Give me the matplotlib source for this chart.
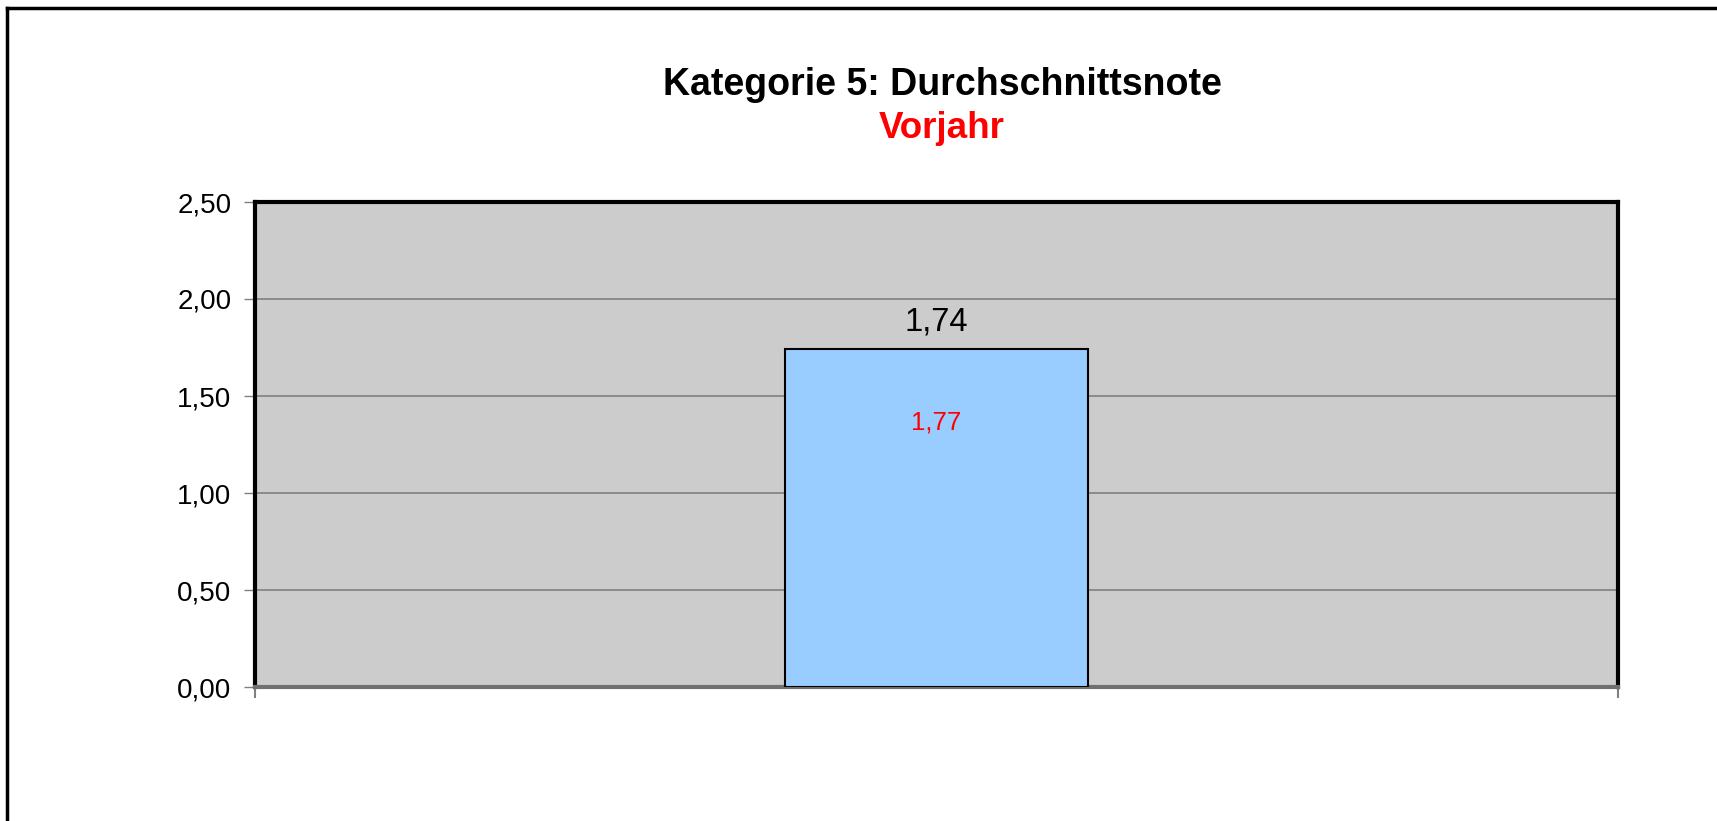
import matplotlib
matplotlib.use("Agg")
import matplotlib.pyplot as plt
from matplotlib.lines import Line2D

plt.rcParams['font.family'] = ['Liberation Sans', 'DejaVu Sans']

# data
categories = [""]
values = [1.74]
prev_values = [1.77]
yticks = [0.0, 0.5, 1.0, 1.5, 2.0, 2.5]
ytick_labels = ["0,00", "0,50", "1,00", "1,50", "2,00", "2,50"]
title = "Kategorie 5: Durchschnittsnote"
subtitle = "Vorjahr"

fig = plt.figure(figsize=(17.17, 8.21), dpi=100)
ax = fig.add_axes([255 / 1717, 1 - 687 / 821, 1363 / 1717, 485 / 821])
ax.set_facecolor("#CCCCCC")

x = list(range(len(categories)))
bars = ax.bar(x, values, width=0.222, color="#99CCFF", edgecolor="black", linewidth=1.5, zorder=3)

ax.set_xlim(-0.5, len(categories) - 0.5)
ax.set_ylim(0, 2.5)
ax.set_yticks(yticks)
ax.set_yticklabels(ytick_labels, fontsize=20)
ax.set_xticks([-0.5, len(categories) - 0.5])
ax.set_xticklabels(["", ""])
ax.tick_params(axis="y", length=8, width=1, color="#808080", pad=9)
ax.tick_params(axis="x", length=8, width=1.5, color="#808080")

# gridlines
for t in yticks[1:-1]:
    ax.axhline(t, color="#808080", linewidth=1.2, zorder=1)

for side in ["left", "top", "right"]:
    ax.spines[side].set_linewidth(3)
    ax.spines[side].set_color("black")
ax.spines["bottom"].set_linewidth(3)
ax.spines["bottom"].set_color("#707070")

# value labels
for xi, v, p in zip(x, values, prev_values):
    ax.annotate(f"{v:.2f}".replace(".", ","), (xi, v), xytext=(0, 20), textcoords="offset points",
                ha="center", va="center", fontsize=23.5, color="black")
    ax.annotate(f"{p:.2f}".replace(".", ","), (xi, v), xytext=(0, -52.5), textcoords="offset points",
                ha="center", va="center", fontsize=18.5, color="red", zorder=4)

# titles
fig.text(942 / 1717, 1 - 85 / 821, title, ha="center", va="center", fontsize=27, fontweight="bold")
fig.text(942 / 1717, 1 - 128 / 821, subtitle, ha="center", va="center", fontsize=26.5, fontweight="bold", color="red")

# chart border (left and top only visible)
fig.add_artist(Line2D([7 / 1717, 7 / 1717], [0, 1 - 8 / 821], transform=fig.transFigure, color="black", linewidth=2.5))
fig.add_artist(Line2D([7 / 1717, 1], [1 - 8 / 821, 1 - 8 / 821], transform=fig.transFigure, color="black", linewidth=2.5))

fig.savefig("out.png", dpi=100)
